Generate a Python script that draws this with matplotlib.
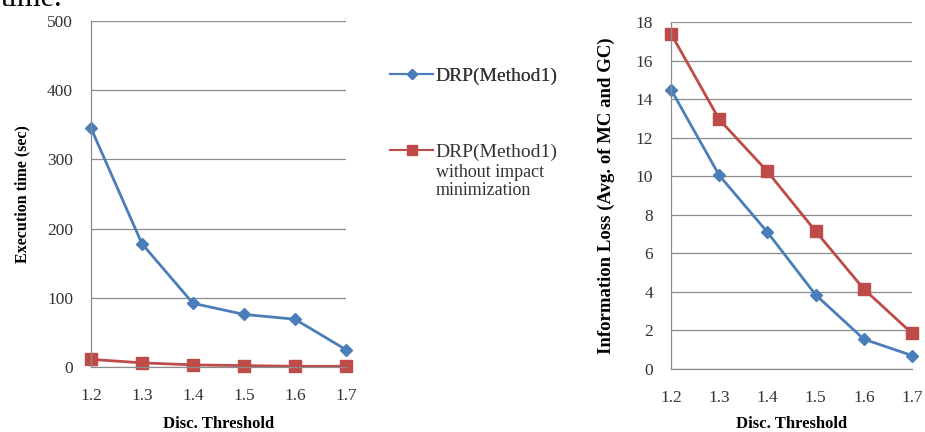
import matplotlib
matplotlib.use("Agg")
import matplotlib.pyplot as plt
from matplotlib.lines import Line2D

plt.rcParams['font.family'] = ['Liberation Serif', 'DejaVu Serif']

thresholds = [1.2, 1.3, 1.4, 1.5, 1.6, 1.7]
exec_drp = [345, 178, 92, 76, 69, 25]
exec_noimp = [11, 6, 3, 2, 1, 1]
loss_drp = [14.5, 10.05, 7.1, 3.85, 1.55, 0.7]
loss_noimp = [17.4, 12.95, 10.25, 7.15, 4.15, 1.85]

blue = '#4a7ebb'
red = '#be4b48'
grid_c = '#8c8c8c'
txt_c = '#333333'

fig = plt.figure(figsize=(9.25, 4.32), dpi=100)

def style(ax, ymax, ystep, xpad):
    ax.set_xlim(1.2, 1.7)
    ax.set_ylim(0, ymax)
    ax.set_xticks(thresholds)
    ax.set_xticklabels(["%.1f" % t for t in thresholds])
    ax.set_yticks(range(0, ymax + 1, ystep))
    ax.grid(True, axis='y', color=grid_c, linewidth=0.9)
    ax.set_axisbelow(True)
    for s in ['top', 'right']:
        ax.spines[s].set_visible(False)
    for s in ['left', 'bottom']:
        ax.spines[s].set_color(grid_c)
        ax.spines[s].set_linewidth(0.9)
    ax.tick_params(length=0, labelsize=12.5, colors=txt_c)
    ax.tick_params(axis='y', pad=13)
    ax.tick_params(axis='x', pad=15)
    ax.set_xlabel('Disc. Threshold', fontsize=12, fontweight='bold', labelpad=xpad)

# left chart: execution time
ax1 = fig.add_axes([0.0984, 0.1505, 0.2756, 0.801])
ax1.plot(thresholds, exec_drp, color=blue, marker='D', markersize=6, linewidth=2, clip_on=False)
ax1.plot(thresholds, exec_noimp, color=red, marker='s', markersize=8.5, linewidth=2, clip_on=False)
style(ax1, 500, 100, 9)
ax1.set_ylabel('Execution time (sec)', fontsize=11.5, fontweight='bold', labelpad=12)

# right chart: information loss
ax2 = fig.add_axes([0.7254, 0.1458, 0.2606, 0.803])
ax2.plot(thresholds, loss_drp, color=blue, marker='D', markersize=6, linewidth=2, clip_on=False)
ax2.plot(thresholds, loss_noimp, color=red, marker='s', markersize=8.5, linewidth=2, clip_on=False)
style(ax2, 18, 2, 7)
ax2.set_ylabel('Information Loss (Avg. of MC and GC)', fontsize=13.5, fontweight='bold', labelpad=15)

# legend, one entry per box so the spacing can follow the reference
h_drp = Line2D([], [], color=blue, marker='D', markersize=5, linewidth=1.5)
h_noimp = Line2D([], [], color=red, marker='s', markersize=7, linewidth=1.5)
leg_kw = dict(loc='center left', frameon=False, fontsize=14, handlelength=2.2,
              handletextpad=0.1, borderpad=0, borderaxespad=0, labelcolor=txt_c)
leg1 = fig.legend([h_drp], ['DRP(Method1)'], bbox_to_anchor=(0.422, 1 - 76 / 432), **leg_kw)
fig.legend([h_noimp], ['DRP(Method1)'], bbox_to_anchor=(0.422, 1 - 152 / 432), **leg_kw)
fig.add_artist(leg1)
fig.text(0.471, 1 - 164 / 432, 'without impact\nminimization', fontsize=13,
         color=txt_c, va='top', ha='left', linespacing=1.05)

# clipped caption fragment from the page above
fig.text(0.001, 0.985, 'time.', fontsize=22, color='black', va='baseline', ha='left')

fig.savefig('out.png', dpi=100)
